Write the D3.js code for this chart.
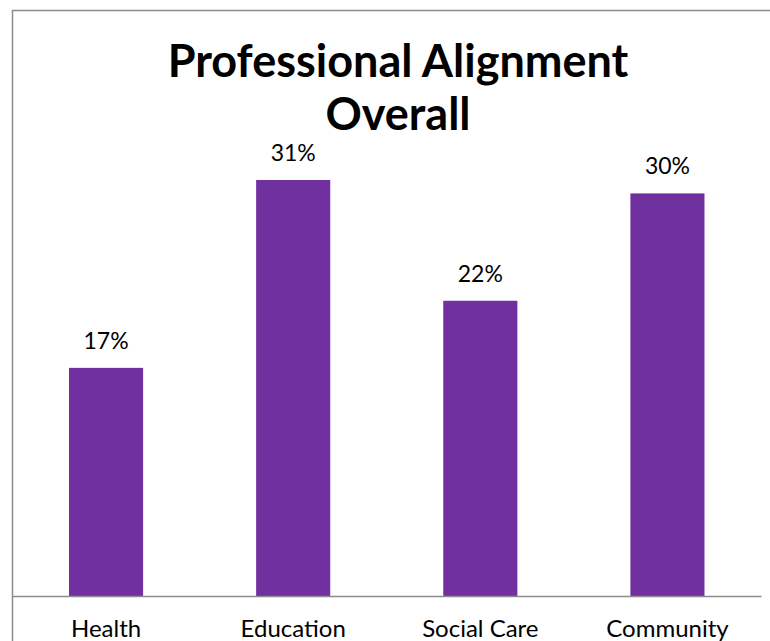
<!DOCTYPE html>
<html>
<head>
<meta charset="utf-8">
<script src="https://cdn.jsdelivr.net/npm/d3@7/dist/d3.min.js"></script>
<style>
  html, body { margin: 0; padding: 0; background: #fff; }
  svg { display: block; }
</style>
</head>
<body>
<svg id="chart" width="770" height="641"></svg>
<script>
// Share of respondents by professional alignment
const categories = ["Health", "Education", "Social Care", "Community"];
const values = [0.17, 0.31, 0.22, 0.30];
const titleLines = ["Professional Alignment", "Overall"];

const W = 770, H = 641;
const svg = d3.select("#chart");
const font = "Lato, 'Open Sans', sans-serif";

// chart frame (extends past the right and bottom edges)
svg.append("rect")
  .attr("x", 12.5).attr("y", 10.5)
  .attr("width", 790).attr("height", 660)
  .attr("fill", "#fff")
  .attr("stroke", "#8c8c8c")
  .attr("stroke-width", 1.5);

const x = d3.scaleBand()
  .domain(categories)
  .range([12.5, 761])
  .padding(0);

const y = d3.scaleLinear()
  .domain([0, 0.35])
  .range([596, 596 - 0.35 * 1342]);

const barW = x.bandwidth() * 0.396;

svg.append("g")
  .selectAll("rect")
  .data(values)
  .join("rect")
  .attr("x", (d, i) => x(categories[i]) + (x.bandwidth() - barW) / 2)
  .attr("y", d => y(d))
  .attr("width", barW)
  .attr("height", d => y(0) - y(d))
  .attr("fill", "#7030a0");

// category axis
const axis = svg.append("g")
  .attr("transform", `translate(0,${y(0)})`)
  .call(d3.axisBottom(x).tickSize(0).tickPadding(0));
axis.select(".domain")
  .attr("stroke", "#8c8c8c")
  .attr("stroke-width", 1.5);
axis.selectAll(".tick text")
  .attr("y", 41)
  .attr("dy", null)
  .attr("font-family", font)
  .attr("font-size", 24)
  .attr("fill", "#000");

// value labels
svg.append("g")
  .selectAll("text")
  .data(values)
  .join("text")
  .attr("x", (d, i) => x(categories[i]) + x.bandwidth() / 2)
  .attr("y", d => y(d) - 19)
  .attr("text-anchor", "middle")
  .attr("font-family", font)
  .attr("font-size", 23)
  .attr("fill", "#000")
  .text(d => d3.format(".0%")(d));

// title
svg.append("text")
  .attr("x", 398)
  .attr("y", 77)
  .attr("text-anchor", "middle")
  .attr("font-family", font)
  .attr("font-weight", "bold")
  .attr("font-size", 45)
  .attr("fill", "#000")
  .selectAll("tspan")
  .data(titleLines)
  .join("tspan")
  .attr("x", 398)
  .attr("dy", (d, i) => i === 0 ? 0 : 53)
  .text(d => d);
</script>
</body>
</html>
